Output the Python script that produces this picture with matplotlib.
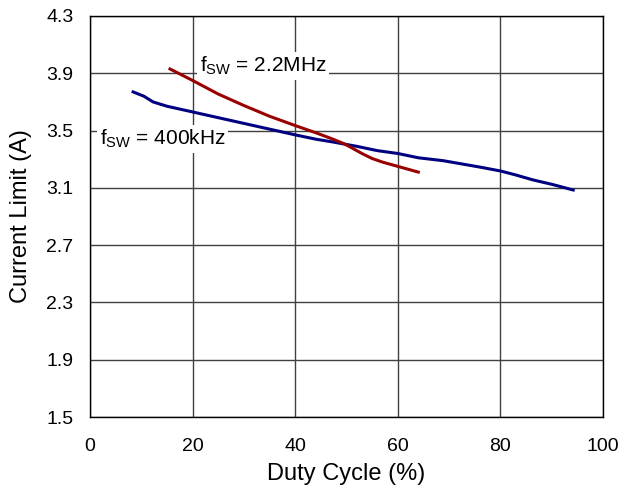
import matplotlib
matplotlib.use("Agg")
from matplotlib import pyplot as plt

plt.rcParams['font.family'] = ['Liberation Sans', 'DejaVu Sans']
plt.rcParams['mathtext.fontset'] = 'custom'
plt.rcParams['mathtext.rm'] = 'Liberation Sans'

# fsw = 400kHz
duty_400k = [8.4, 10.5, 12.3, 15, 20, 25, 30, 35, 40, 44, 47.4, 52, 56, 60, 64, 68.8, 72, 76, 80, 83, 86.4, 90, 94.2]
ilim_400k = [3.77, 3.74, 3.70, 3.67, 3.63, 3.59, 3.55, 3.51, 3.47, 3.44, 3.42, 3.39, 3.36, 3.34, 3.31, 3.29, 3.27, 3.245, 3.218, 3.19, 3.155, 3.125, 3.085]

# fsw = 2.2MHz
duty_2m2 = [15.6, 20, 25, 30, 35, 40, 44, 47, 49.4, 51, 53, 55, 57, 60, 62, 64]
ilim_2m2 = [3.93, 3.85, 3.755, 3.675, 3.60, 3.535, 3.485, 3.445, 3.41, 3.38, 3.34, 3.305, 3.28, 3.25, 3.23, 3.21]

fig = plt.figure(figsize=(6.21, 4.96), dpi=100)
ax = fig.add_axes([90/621, 79/496, 513/621, 401/496])

ax.plot(duty_400k, ilim_400k, color='#000080', lw=2.2)
ax.plot(duty_2m2, ilim_2m2, color='#990000', lw=2.2)

ax.set_xlim(0, 100)
ax.set_ylim(1.5, 4.3)
ax.set_xticks([0, 20, 40, 60, 80, 100])
ax.set_yticks([1.5, 1.9, 2.3, 2.7, 3.1, 3.5, 3.9, 4.3])
ax.set_yticklabels(['1.5', '1.9', '2.3', '2.7', '3.1', '3.5', '3.9', '4.3'])
ax.grid(True, color='#404040', lw=1)
ax.set_axisbelow(True)
ax.tick_params(length=0, labelsize=14)
ax.tick_params(axis='x', pad=15)
ax.tick_params(axis='y', pad=12)
for s in ax.spines.values():
    s.set_color('black')
    s.set_linewidth(1)

ax.set_xlabel('Duty Cycle (%)', fontsize=17, labelpad=6)
ax.set_ylabel('Current Limit (A)', fontsize=17, labelpad=10)

ax.text(21.4, 3.95, r'f$\mathregular{_{SW}}$ = 2.2MHz', fontsize=15, va='center', ha='left',
        bbox=dict(facecolor='white', edgecolor='none', pad=2))
ax.text(1.9, 3.44, r'f$\mathregular{_{SW}}$ = 400kHz', fontsize=15, va='center', ha='left',
        bbox=dict(facecolor='white', edgecolor='none', pad=2))

fig.savefig('out.png', dpi=100)
